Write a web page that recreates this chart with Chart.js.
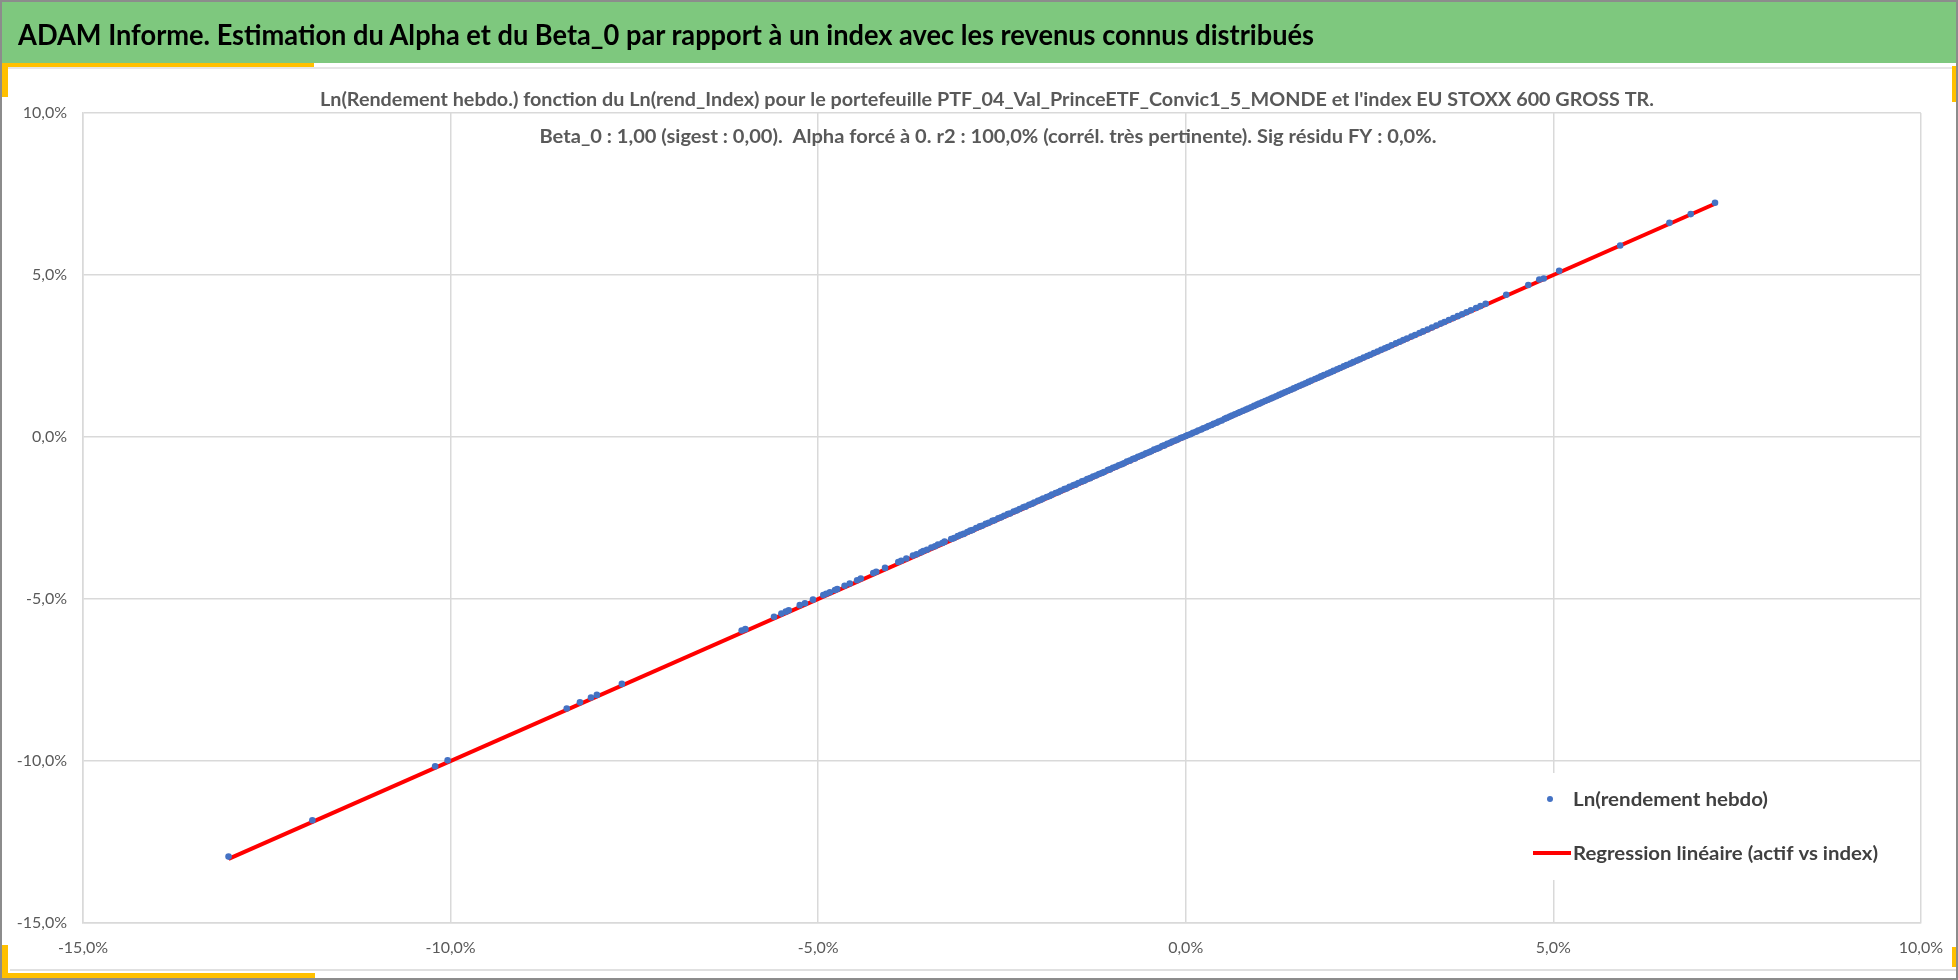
<!DOCTYPE html>
<html>
<head>
<meta charset="utf-8">
<script src="https://cdn.jsdelivr.net/npm/chart.js@4.4.1/dist/chart.umd.min.js"></script>
<style>
html,body{margin:0;padding:0;background:#fff;}
body{width:1958px;height:980px;position:relative;overflow:hidden;font-family:Lato,'Open Sans',sans-serif;}
#chart{position:absolute;left:0;top:0;}
#frame{position:absolute;left:0;top:0;width:1958px;height:980px;box-sizing:border-box;border:2px solid #8c8c8c;z-index:6;pointer-events:none;}
#header{position:absolute;left:2px;top:2px;width:1954px;height:61px;background:#7EC87E;z-index:3;}
#headerText{position:absolute;left:16px;top:0;line-height:64px;font-weight:bold;font-size:28px;font-family:Lato,'Open Sans',sans-serif;color:#000;white-space:nowrap;transform-origin:0 50%;}
.deco{position:absolute;z-index:4;}
.yel{background:#FFC000;}
</style>
</head>
<body>
<canvas id="chart" width="1958" height="980"></canvas>
<div id="header"><span id="headerText"></span></div>
<div class="deco" style="left:2px;top:67px;width:1954px;height:2px;background:#e6e6e6;"></div>
<div class="deco yel" style="left:2px;top:63px;width:312px;height:4px;"></div>
<div class="deco yel" style="left:2px;top:63px;width:6px;height:34px;"></div>
<div class="deco yel" style="left:1952px;top:66px;width:4px;height:36px;"></div>
<div class="deco" style="left:10px;top:969px;width:1946px;height:2px;background:#e0e0e0;"></div>
<div class="deco yel" style="left:2px;top:973px;width:313px;height:5px;"></div>
<div class="deco yel" style="left:2px;top:945px;width:6px;height:33px;"></div>
<div class="deco yel" style="left:1952px;top:947px;width:4px;height:20px;"></div>
<div id="frame"></div>
<script>
// ---------- DATA (values in percent) ----------
const headerTitle = "ADAM Informe. Estimation du Alpha et du Beta_0 par rapport à un index avec les revenus connus distribués";
const titleLines = [
  "Ln(Rendement hebdo.) fonction du Ln(rend_Index) pour le portefeuille PTF_04_Val_PrinceETF_Convic1_5_MONDE et l'index EU STOXX 600 GROSS TR.",
  "Beta_0 : 1,00 (sigest : 0,00).  Alpha forcé à 0. r2 : 100,0% (corrél. très pertinente). Sig résidu FY : 0,0%."
];
const seriesNames = ["Ln(rendement hebdo)", "Regression linéaire (actif vs index)"];
const xTickLabels = ["-15,0%", "-10,0%", "-5,0%", "0,0%", "5,0%", "10,0%"];
const yTickLabels = ["-15,0%", "-10,0%", "-5,0%", "0,0%", "5,0%", "10,0%"];

// Ln(rend_Index) : x values
const indexReturns = [
  -13.02,-11.88,-10.21,-10.04,-8.42,-8.24,-8.09,-8.01,-7.67,-6.04,-5.99,-5.60,-5.50,-5.44,-5.40,-5.25,-5.18,-5.07,
  -4.93,-4.89,-4.84,-4.77,-4.74,-4.64,-4.57,-4.47,-4.42,-4.25,-4.21,-4.09,-3.91,-3.87,-3.80,-3.71,-3.66,-3.60,-3.57,
  -3.52,-3.46,-3.41,-3.37,-3.31,-3.28,
  -3.19,-3.15,-3.10,-3.06,-3.02,-2.97,-2.93,-2.90,-2.85,-2.80,-2.77,-2.72,-2.68,-2.63,-2.60,-2.55,-2.51,-2.47,-2.42,
  -2.39,-2.34,-2.30,-2.26,-2.21,-2.18,-2.13,-2.09,-2.06,-2.01,-1.97,-1.94,-1.89,-1.85,-1.82,-1.77,-1.73,-1.70,-1.65,
  -1.62,-1.58,-1.53,-1.50,-1.46,-1.41,-1.38,-1.34,-1.30,-1.26,-1.22,-1.18,-1.14,-1.11,-1.06,-1.03,-0.99,-0.95,-0.91,
  -0.87,-0.84,-0.80,-0.76,-0.72,-0.69,-0.65,-0.61,-0.58,-0.54,-0.50,-0.47,-0.43,-0.39,-0.36,-0.32,-0.29,-0.25,-0.21,
  -0.18,-0.14,-0.11,-0.07,-0.04,0.00,
  0.03,0.07,0.10,0.14,0.17,0.21,0.24,0.28,0.31,0.35,0.38,0.42,0.45,0.49,0.53,0.56,0.60,0.63,0.67,0.71,0.74,0.78,
  0.82,0.85,0.89,0.93,0.97,1.00,1.04,1.08,1.12,1.16,1.19,1.23,1.27,1.31,1.35,1.39,1.43,1.47,1.51,1.55,1.59,1.63,
  1.67,1.71,1.76,1.80,1.84,1.88,1.93,1.97,2.01,2.06,2.10,2.15,2.19,2.24,2.28,2.33,2.37,2.42,2.47,2.51,2.56,2.61,
  2.66,2.71,2.75,2.80,2.86,2.91,2.96,3.01,3.07,3.12,3.18,3.23,3.29,3.35,3.41,3.47,3.52,3.58,3.64,3.70,3.76,3.82,
  3.88,3.95,4.01,4.08,
  4.36,4.66,4.81,4.87,5.08,5.91,6.58,6.87,7.20
];
// Ln(rendement hebdo) du portefeuille : y values
const assetReturns = [
  -12.95,-11.83,-10.16,-9.98,-8.38,-8.19,-8.04,-7.96,-7.62,-5.97,-5.93,-5.55,-5.45,-5.39,-5.35,-5.19,-5.13,-5.02,
  -4.88,-4.84,-4.79,-4.72,-4.69,-4.59,-4.52,-4.42,-4.37,-4.20,-4.16,-4.04,-3.86,-3.82,-3.75,-3.66,-3.62,-3.56,-3.52,
  -3.48,-3.41,-3.37,-3.32,-3.27,-3.23,
  -3.15,-3.12,-3.06,-3.02,-2.99,-2.93,-2.89,-2.87,-2.81,-2.76,-2.74,-2.68,-2.65,-2.59,-2.57,-2.51,-2.48,-2.43,-2.38,
  -2.36,-2.30,-2.27,-2.22,-2.17,-2.15,-2.09,-2.06,-2.02,-1.97,-1.94,-1.90,-1.85,-1.82,-1.78,-1.73,-1.70,-1.66,-1.61,
  -1.59,-1.54,-1.49,-1.47,-1.42,-1.37,-1.35,-1.30,-1.27,-1.22,-1.19,-1.14,-1.11,-1.08,-1.02,-1.00,-0.95,-0.92,-0.87,
  -0.84,-0.81,-0.76,-0.73,-0.68,-0.66,-0.61,-0.58,-0.55,-0.50,-0.47,-0.44,-0.39,-0.36,-0.33,-0.28,-0.26,-0.21,-0.18,
  -0.14,-0.11,-0.08,-0.03,-0.01,0.03,
  0.06,0.09,0.13,0.16,0.20,0.23,0.27,0.30,0.34,0.37,0.41,0.44,0.48,0.51,0.56,0.59,0.63,0.66,0.70,0.74,0.77,0.81,
  0.85,0.88,0.92,0.96,1.00,1.03,1.07,1.11,1.15,1.19,1.22,1.26,1.30,1.34,1.38,1.42,1.46,1.50,1.54,1.58,1.62,1.66,
  1.70,1.74,1.79,1.83,1.87,1.91,1.96,2.00,2.04,2.09,2.13,2.18,2.22,2.27,2.31,2.36,2.40,2.45,2.50,2.54,2.59,2.64,
  2.69,2.74,2.78,2.83,2.89,2.94,2.99,3.04,3.10,3.15,3.21,3.26,3.32,3.38,3.44,3.50,3.55,3.61,3.67,3.73,3.79,3.85,
  3.91,3.98,4.04,4.11,
  4.39,4.69,4.86,4.89,5.13,5.91,6.61,6.88,7.23
];
// Droite de régression (Beta_0 = 1,00, Alpha = 0)
const regressionX = [-13.02, 7.20];
const regressionY = [-13.02, 7.20];

// ---------- helpers ----------
function fitText(ctx, text, x, y, w, align) {
  const m = ctx.measureText(text).width;
  const s = w / m;
  ctx.save();
  const x0 = align === 'center' ? x - w / 2 : x;
  ctx.translate(x0, y);
  ctx.scale(s, 1);
  ctx.textAlign = 'left';
  ctx.fillText(text, 0, 0);
  ctx.restore();
}

// header
const ht = document.getElementById('headerText');
ht.textContent = headerTitle;
const hw = ht.getBoundingClientRect().width;
ht.style.transform = 'scaleX(' + (1296 / hw) + ')';

const overlayPlugin = {
  id: 'overlay',
  afterDraw(chart) {
    const ctx = chart.ctx;
    ctx.save();
    // titles
    ctx.fillStyle = '#595959';
    ctx.font = 'bold 18px Lato';
    ctx.textBaseline = 'alphabetic';
    fitText(ctx, titleLines[0], 987, 106, 1334, 'center');
    fitText(ctx, titleLines[1], 988, 143, 897, 'center');
    // legend
    ctx.fillStyle = '#ffffff';
    ctx.fillRect(1526, 773, 394, 107);
    const ds = chart.data.datasets;
    ctx.fillStyle = ds[0].backgroundColor;
    ctx.beginPath();
    ctx.arc(1550, 799, 3, 0, Math.PI * 2);
    ctx.fill();
    ctx.strokeStyle = ds[1].borderColor;
    ctx.lineWidth = 4;
    ctx.beginPath();
    ctx.moveTo(1533, 853);
    ctx.lineTo(1571, 853);
    ctx.stroke();
    ctx.fillStyle = '#404040';
    ctx.font = 'bold 19px Lato';
    fitText(ctx, ds[0].label, 1573, 806, 195, 'left');
    fitText(ctx, ds[1].label, 1573, 860, 305, 'left');
    ctx.restore();
  }
};

const scatterPoints = indexReturns.map((x, i) => ({ x: x, y: assetReturns[i] }));
const regressionPoints = regressionX.map((x, i) => ({ x: x, y: regressionY[i] }));

const gridStyle = { color: '#d9d9d9', lineWidth: 1.5, drawTicks: false };
const tickFont = { family: 'Lato', size: 16 };

new Chart(document.getElementById('chart'), {
  type: 'scatter',
  data: {
    datasets: [
      {
        label: seriesNames[0],
        data: scatterPoints,
        backgroundColor: '#4472C4',
        borderWidth: 0,
        pointRadius: 3.3,
        pointHoverRadius: 3.3,
        order: 0
      },
      {
        label: seriesNames[1],
        type: 'line',
        data: regressionPoints,
        borderColor: '#FF0000',
        backgroundColor: '#FF0000',
        borderWidth: 4,
        pointRadius: 0,
        showLine: true,
        fill: false,
        order: 1
      }
    ]
  },
  options: {
    responsive: false,
    animation: false,
    devicePixelRatio: 1,
    layout: { padding: { left: 0, top: 113, right: 35, bottom: 0 } },
    plugins: {
      legend: { display: false },
      title: { display: false },
      tooltip: { enabled: false }
    },
    scales: {
      x: {
        type: 'linear',
        min: -15, max: 10,
        ticks: { stepSize: 5, color: '#595959', font: tickFont, padding: 15,
                 callback: (v, i) => xTickLabels[i] },
        grid: gridStyle,
        border: { color: '#d9d9d9', width: 1.5 },
        afterFit(s) { s.height = 57; }
      },
      y: {
        type: 'linear',
        min: -15, max: 10,
        ticks: { stepSize: 5, color: '#595959', font: tickFont, padding: 16,
                 callback: (v, i) => yTickLabels[i] },
        grid: gridStyle,
        border: { color: '#d9d9d9', width: 1.5 },
        afterFit(s) { s.width = 83; }
      }
    }
  },
  plugins: [overlayPlugin]
});
</script>
</body>
</html>
